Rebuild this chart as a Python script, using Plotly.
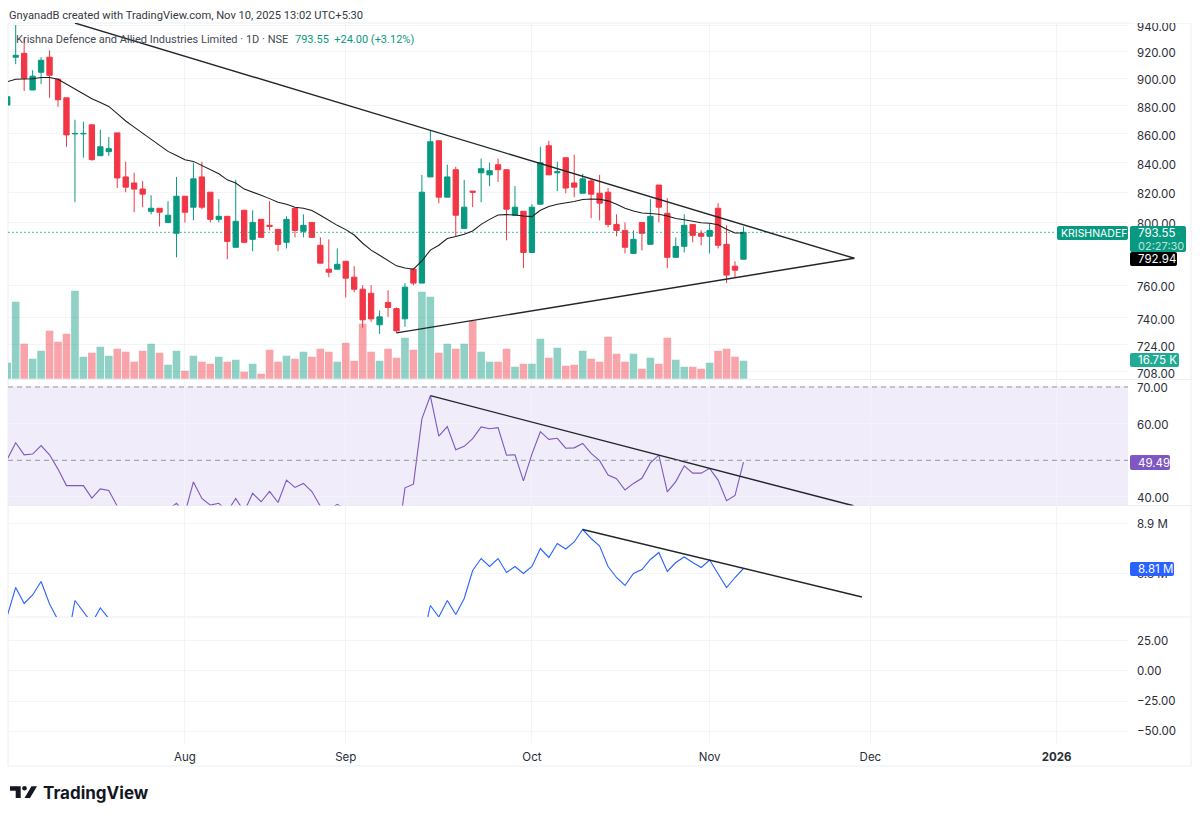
import plotly.graph_objects as go
from plotly.subplots import make_subplots

W, H = 1200, 819

# trading day index, 0 is the first whole candle on screen
bar_index = list(range(-1, 87))

opens = [880.5, 915.6, 918.5, 891.4, 904.4, 915.6, 899.3, 885.7, 860.0, 860.0, 866.4, 844.8,
         847.6, 860.7, 830.3, 826.2, 822.1, 807.3, 809.3, 800.0, 792.9, 817.3, 810.0, 830.3,
         820.0, 802.0, 804.0, 783.9, 808.0, 789.0, 802.0, 798.1, 795.5, 787.1, 809.3, 794.2,
         800.0, 785.2, 770.0, 770.0, 775.0, 765.0, 757.5, 755.0, 735.8, 749.4, 745.6, 739.4,
         770.0, 761.3, 830.3, 855.2, 816.7, 835.2, 796.1, 820.7, 833.1, 831.7, 838.6, 835.2,
         804.7, 807.3, 780.6, 812.0, 851.7, 833.1, 843.4, 826.2, 819.3, 827.6, 819.3, 820.0,
         798.7, 794.8, 780.0, 800.0, 785.8, 824.8, 806.0, 777.5, 784.5, 798.7, 792.9, 791.0,
         809.3, 785.8, 771.9, 776.3]
highs = [887.0, 940.0, 929.6, 905.9, 915.6, 920.7, 900.0, 885.7, 870.0, 868.6, 866.4, 862.9,
         857.9, 860.7, 840.7, 833.1, 827.6, 818.0, 809.3, 814.0, 830.3, 817.3, 840.0, 840.7,
         820.0, 815.3, 804.0, 828.3, 808.0, 808.0, 802.0, 814.0, 795.5, 804.0, 809.3, 805.3,
         800.0, 790.3, 789.0, 783.2, 775.0, 771.9, 760.0, 760.0, 744.4, 756.9, 746.3, 761.3,
         770.6, 831.7, 862.1, 855.2, 838.6, 837.2, 828.3, 820.7, 842.8, 840.0, 842.8, 835.2,
         824.1, 807.3, 812.0, 851.0, 855.2, 840.7, 843.4, 845.5, 832.4, 829.0, 831.7, 822.8,
         805.3, 800.0, 794.8, 800.0, 815.3, 824.8, 816.0, 790.3, 805.3, 798.7, 794.8, 799.4,
         812.7, 798.1, 775.0, 797.4]
lows = [880.0, 910.4, 890.7, 891.4, 895.7, 885.7, 879.3, 851.0, 813.3, 843.4, 841.4, 844.8,
        844.8, 822.8, 820.0, 806.7, 810.0, 805.3, 797.4, 800.0, 777.5, 800.0, 801.3, 808.7,
        800.0, 800.0, 776.3, 783.9, 786.5, 781.3, 790.3, 794.8, 781.3, 783.2, 790.3, 790.3,
        790.3, 773.8, 765.0, 770.0, 752.5, 755.6, 734.0, 737.6, 730.4, 740.6, 731.0, 734.6,
        760.0, 761.3, 830.3, 812.7, 816.7, 791.0, 796.1, 810.0, 813.3, 824.1, 826.9, 788.4,
        804.7, 770.6, 780.6, 812.0, 831.7, 820.7, 819.3, 816.7, 819.3, 802.7, 801.3, 796.8,
        791.0, 780.0, 780.0, 781.9, 785.8, 800.0, 770.6, 777.5, 780.6, 787.1, 785.2, 780.0,
        783.2, 761.3, 765.0, 776.3]
closes = [886.5, 917.0, 900.0, 901.5, 913.3, 902.2, 884.3, 859.3, 860.3, 860.3, 842.1, 851.0,
          849.7, 829.6, 823.4, 822.1, 818.7, 809.3, 806.7, 804.7, 817.3, 806.7, 829.0, 810.0,
          802.0, 804.0, 787.7, 800.7, 787.1, 800.0, 790.3, 797.4, 785.8, 802.0, 794.8, 798.1,
          790.3, 773.8, 768.1, 773.1, 764.4, 757.5, 738.8, 739.4, 740.6, 746.3, 732.2, 758.8,
          761.3, 820.0, 854.5, 816.7, 830.3, 804.7, 810.0, 820.0, 835.9, 834.5, 835.2, 808.7,
          810.0, 780.6, 810.0, 840.0, 831.7, 833.8, 822.8, 823.4, 829.0, 818.7, 812.7, 798.7,
          794.8, 783.9, 789.0, 792.9, 804.0, 810.0, 777.5, 784.5, 798.1, 791.6, 791.0, 794.8,
          785.2, 766.3, 769.4, 793.55]

# thousands of shares
volume_k = [14.9, 71.6, 32.6, 18.6, 26.0, 44.6, 34.4, 41.9, 81.8, 20.5, 24.2, 29.8, 21.4, 27.9, 25.1,
            15.8, 26.0, 32.6, 24.2, 13.0, 26.0, 7.4, 21.4, 15.8, 14.0, 20.5, 15.8, 17.7, 6.5, 14.0,
            4.7, 27.0, 15.8, 21.4, 18.6, 25.1, 20.5, 27.9, 25.1, 15.8, 33.5, 16.7, 51.2, 25.1, 16.7,
            27.9, 19.5, 38.1, 27.0, 80.9, 76.3, 24.2, 32.6, 27.9, 32.6, 53.9, 25.1, 15.8, 15.8, 27.9,
            11.2, 14.0, 14.0, 37.2, 19.5, 28.8, 12.1, 13.0, 26.0, 18.6, 15.8, 39.1, 23.3, 15.8, 23.3,
            9.3, 19.5, 14.0, 38.1, 17.7, 11.2, 11.2, 9.3, 14.9, 26.0, 27.9, 20.5, 16.75]

moving_avg = [897.4, 899.3, 899.5, 899.6, 900.5, 900.5, 899.3, 895.7, 892.1, 888.6, 885.0, 882.4,
              879.5, 874.3, 869.1, 864.8, 860.5, 856.1, 851.9, 847.8, 845.0, 842.1, 840.9, 838.1,
              835.2, 832.4, 828.3, 826.2, 822.1, 820.2, 818.0, 815.7, 813.3, 812.0, 810.0, 809.3,
              807.8, 804.7, 801.3, 798.1, 795.3, 791.8, 786.5, 782.1, 778.8, 775.6, 772.1, 770.8,
              770.0, 775.2, 782.1, 785.2, 789.5, 790.8, 792.3, 794.4, 798.7, 802.0, 804.9, 805.1,
              804.9, 804.2, 803.8, 808.0, 810.5, 812.0, 812.7, 813.8, 815.1, 815.5, 815.3, 814.2,
              812.0, 809.3, 807.5, 806.2, 805.8, 805.3, 804.2, 802.5, 801.8, 800.7, 799.8, 799.4,
              798.5, 795.5, 793.1, 793.1]

# None where the line runs off the bottom of the pane
rsi = [50.3, 54.8, 51.5, 51.7, 54.0, 51.5, 47.6, 43.1, 43.1, 43.1, 39.7, 42.2, 41.8, 37.5, 36.0,
       None, None, None, None, 36.5, 38.3, 35.6, 44.1, 39.6, 37.8, 38.3, 36.0, 39.6, 36.0, 41.0,
       38.7, 41.5, 38.5, 44.6, 42.6, 43.7, 41.5, 37.5, 36.5, 38.0, 36.5, None, None, None, None,
       None, 26.0, 42.5, 43.5, 61.3, 67.6, 56.6, 59.2, 52.9, 53.8, 55.9, 59.1, 58.6, 58.9, 51.4,
       51.5, 44.4, 51.7, 57.8, 55.7, 56.0, 53.3, 53.4, 54.6, 51.9, 49.9, 46.0, 45.0, 41.9, 43.7,
       45.1, 49.3, 51.4, 41.4, 44.2, 48.5, 46.5, 46.5, 47.8, 44.6, 39.0, 40.4, 49.49]

# millions, same gaps idea as rsi
obv_m = [8.714, 8.771, 8.739, 8.756, 8.783, 8.738, 8.706, 8.652, 8.745, 8.722, 8.700, 8.730, 8.709]
obv_m += [None] * 36
obv_m += [8.659, 8.735, 8.712, 8.745, 8.717, 8.749, 8.805, 8.829, 8.813, 8.829, 8.801, 8.813,
          8.799, 8.813, 8.849, 8.831, 8.859, 8.848, 8.862, 8.887, 8.869, 8.854, 8.813, 8.791,
          8.775, 8.799, 8.807, 8.827, 8.841, 8.803, 8.821, 8.832, 8.821, 8.811, 8.826, 8.799,
          8.771, 8.791, 8.809]

# trend lines, (bar, value) ends
upper_x, upper_y = [7.0, 99.1], [941.5, 776.9]
lower_x, lower_y = [45.0, 99.1], [731.0, 776.9]
rsi_tl_x, rsi_tl_y = [49.0, 99.0], [67.63, 37.6]
obv_tl_x, obv_tl_y = [67.0, 100.0], [8.887, 8.752]

last_price = 793.55
price_line_x = [-0.91, 122.9]

month_ticks = [20, 39, 61, 82, 101, 123]
month_labels = ["Aug", "Sep", "Oct", "Nov", "Dec", "<b>2026</b>"]

price_ticks = [940, 920, 900, 880, 860, 840, 820, 800, 760, 740, 724, 708]
rsi_ticks = [70, 60, 40]
obv_ticks = [8.9, 8.8]
obv_labels = ["8.9 M", "8.8 M"]
bottom_ticks = [25, 0, -25, -50]
bottom_labels = ["25.00", "0.00", "−25.00", "−50.00"]

GREEN = "#089981"
RED = "#f23645"
GRID = "#f3f4f8"
EDGE = "#eceef3"
TEXT = "#2a2e39"
TREND = "#22262b"
FONT = "Inter"
HEAD_FONT = "Roboto"


def px(x):
    return x / W


def py(y):
    return 1 - y / H


def pane(top, bottom):
    return [py(bottom), py(top)]


def poly(points):
    return "M" + " L".join(f"{px(a):.5f},{py(b):.5f}" for a, b in points) + " Z"


def round_box(x0, x1, y0, y1, r=2):
    c = f"{px(x0 + r):.5f},{py(y0):.5f}"
    return (f"M{c} L{px(x1 - r):.5f},{py(y0):.5f} Q{px(x1):.5f},{py(y0):.5f} {px(x1):.5f},{py(y0 + r):.5f} "
            f"L{px(x1):.5f},{py(y1 - r):.5f} Q{px(x1):.5f},{py(y1):.5f} {px(x1 - r):.5f},{py(y1):.5f} "
            f"L{px(x0 + r):.5f},{py(y1):.5f} Q{px(x0):.5f},{py(y1):.5f} {px(x0):.5f},{py(y1 - r):.5f} "
            f"L{px(x0):.5f},{py(y0 + r):.5f} Q{px(x0):.5f},{py(y0):.5f} {c} Z")


fig = make_subplots(rows=4, cols=1, shared_xaxes=True, vertical_spacing=0,
                    specs=[[{"secondary_y": True}], [{}], [{}], [{}]])

vol_colors = [RED if c < o else GREEN for o, c in zip(opens, closes)]
fig.add_trace(go.Bar(x=bar_index, y=volume_k, marker_color=vol_colors, marker_opacity=0.45,
                     marker_line_width=0), row=1, col=1, secondary_y=False)

fig.add_trace(go.Scatter(x=price_line_x, y=[last_price, last_price], mode="lines", opacity=0.7,
                         line=dict(color=GREEN, width=1, dash="2px,2px")),
              row=1, col=1, secondary_y=True)
fig.add_trace(go.Candlestick(x=bar_index, open=opens, high=highs, low=lows, close=closes,
                             increasing=dict(line=dict(color=GREEN, width=1), fillcolor=GREEN),
                             decreasing=dict(line=dict(color=RED, width=1), fillcolor=RED),
                             whiskerwidth=0),
              row=1, col=1, secondary_y=True)
fig.add_trace(go.Scatter(x=bar_index, y=moving_avg, mode="lines",
                         line=dict(color="#1c1c1c", width=1.05)),
              row=1, col=1, secondary_y=True)
for tx, ty in [(upper_x, upper_y), (lower_x, lower_y)]:
    fig.add_trace(go.Scatter(x=tx, y=ty, mode="lines", line=dict(color=TREND, width=1.4)),
                  row=1, col=1, secondary_y=True)

fig.add_trace(go.Scatter(x=bar_index, y=rsi, mode="lines", connectgaps=False,
                         line=dict(color="#7e57c2", width=1.1)), row=2, col=1)
fig.add_trace(go.Scatter(x=rsi_tl_x, y=rsi_tl_y, mode="lines",
                         line=dict(color=TREND, width=1.4)), row=2, col=1)

fig.add_trace(go.Scatter(x=bar_index, y=obv_m, mode="lines", connectgaps=False,
                         line=dict(color="#2962ff", width=1.1)), row=3, col=1)
fig.add_trace(go.Scatter(x=obv_tl_x, y=obv_tl_y, mode="lines",
                         line=dict(color=TREND, width=1.4)), row=3, col=1)

# bottom pane is empty in the source, this only keeps its axes alive
fig.add_trace(go.Scatter(x=month_ticks, y=[None] * len(month_ticks), mode="lines"), row=4, col=1)

x_common = dict(range=[-0.91, 131.44], tickvals=month_ticks, ticktext=month_labels,
                showgrid=True, gridcolor=GRID, gridwidth=1, zeroline=False, showline=False,
                ticks="", automargin=False, rangeslider=dict(visible=False))
fig.update_xaxes(**x_common)
fig.update_xaxes(showticklabels=False, row=1, col=1)
fig.update_xaxes(showticklabels=False, row=2, col=1)
fig.update_xaxes(showticklabels=False, row=3, col=1)
fig.update_xaxes(showticklabels=True, ticklabelstandoff=5,
                 tickfont=dict(family=FONT, size=11.5, color=TEXT), row=4, col=1)

y_common = dict(side="right", showgrid=True, gridcolor=GRID, gridwidth=1, zeroline=False,
                showline=False, ticks="", ticklabelstandoff=8, automargin=False,
                tickfont=dict(family=FONT, size=11.5, color=TEXT))

shapes = [
    # rsi band and levels
    dict(type="rect", xref="x2 domain", yref="y3", x0=0, x1=1, y0=30, y1=70,
         fillcolor="#f0ecf9", line_width=0, layer="below"),
    dict(type="line", xref="x2 domain", yref="y3", x0=0, x1=1, y0=70, y1=70,
         line=dict(color="#9598a1", width=1, dash="5px,4px")),
    dict(type="line", xref="x2 domain", yref="y3", x0=0, x1=1, y0=50, y1=50,
         line=dict(color="#9598a1", width=1, dash="5px,4px")),
    # clip the top label like the source
    dict(type="rect", xref="paper", yref="paper", x0=px(1130), x1=px(1190), y0=py(23), y1=py(0),
         fillcolor="white", line_width=0, layer="above"),
    # frame
    dict(type="rect", xref="paper", yref="paper", x0=px(8), x1=px(1191), y0=py(766), y1=py(23),
         line=dict(color=EDGE, width=1), layer="below"),
]
for sep in [379.5, 505.5, 617]:
    shapes.append(dict(type="line", xref="paper", yref="paper", x0=px(8), x1=px(1191),
                       y0=py(sep), y1=py(sep), line=dict(color=EDGE, width=1), layer="below"))

# logo mark
logo = [
    poly([(10, 786.3), (20.7, 786.3), (20.7, 798), (15.7, 798), (15.7, 790.8), (10, 790.8)]),
    poly([(24.5, 798), (31.5, 786.3), (37, 786.3), (30, 798)]),
]
for path in logo:
    shapes.append(dict(type="path", path=path, xref="paper", yref="paper",
                       fillcolor="#131722", line_width=0))
shapes.append(dict(type="circle", xref="paper", yref="paper", x0=px(22.2), x1=px(26.8),
                   y0=py(790.6), y1=py(786), fillcolor="#131722", line_width=0))

# value tags: x0, x1, y0, y1, colour
tag_boxes = [
    (1057, 1128, 226, 240, GREEN),
    (1130, 1186, 226, 252, GREEN),
    (1130, 1177, 252, 266, "#000000"),
    (1130, 1179, 353, 367, "#22ab94"),
    (1130, 1170, 455, 470, "#7e57c2"),
    (1130, 1174, 562, 576, "#2962ff"),
]
for x0, x1, y0, y1, col in tag_boxes:
    shapes.append(dict(type="path", path=round_box(x0, x1, y0, y1), xref="paper", yref="paper",
                       fillcolor=col, line_width=0, layer="above"))

fig.update_layout(
    width=W, height=H,
    margin=dict(l=0, r=0, t=0, b=0, autoexpand=False),
    paper_bgcolor="white", plot_bgcolor="white",
    showlegend=False, bargap=0.1, boxgap=0.1,
    shapes=shapes,
    xaxis=dict(domain=[px(8), px(1128)]),
    xaxis2=dict(domain=[px(8), px(1128)]),
    xaxis3=dict(domain=[px(8), px(1128)]),
    xaxis4=dict(domain=[px(8), px(1128)]),
    yaxis=dict(domain=pane(23, 379.5), range=[-0.74, 330.8], visible=False),
    yaxis2=dict(domain=pane(23, 379.5), type="log", range=[2.84736, 2.97384], ticklabelshift=2,
                tickvals=price_ticks, ticktext=[f"{t:.2f}" for t in price_ticks], **y_common),
    yaxis3=dict(domain=pane(380, 505.5), range=[37.68, 71.9], tickvals=rsi_ticks, ticklabelshift=1,
                ticktext=[f"{t:.2f}" for t in rsi_ticks], **y_common),
    yaxis4=dict(domain=pane(505.5, 617), range=[8.712, 8.935], tickvals=obv_ticks, ticklabelshift=1,
                ticktext=obv_labels, **y_common),
    yaxis5=dict(domain=pane(617, 743), range=[-59.7, 44.6], tickvals=bottom_ticks,
                ticktext=bottom_labels, **y_common),
)


def label(x, y, text, color=TEXT, size=11.5, family=FONT):
    fig.add_annotation(xref="paper", yref="paper", x=px(x), y=py(y), text=text, showarrow=False,
                       xanchor="left", yanchor="middle", align="left",
                       font=dict(family=family, size=size, color=color))


label(7, 15, "GnyanadB created with TradingView.com, Nov 10, 2025 13:02 UTC+5:30",
      color="#333842", size=11.15, family=HEAD_FONT)
label(14, 39, "Krishna Defence and Allied Industries Limited · 1D · NSE",
      color="#434852", size=11, family=HEAD_FONT)
label(293, 39, "793.55  +24.00 (+3.12%)", color=GREEN, size=11, family=HEAD_FONT)

label(1059, 233, "KRISHNADEF", color="white", size=10.5)
label(1136, 233, "793.55", color="white")
label(1136, 245.5, "02:27:30", color="#bfe3dc", size=11)
label(1136, 259, "792.94", color="white")
label(1136, 360, "16.75 K", color="white")
label(1136, 462.5, "49.49", color="white")
label(1136, 569, "8.81 M", color="white")

label(41, 793, "<b>TradingView</b>", color="#131722", size=17)

fig.write_html("out.html", post_script="document.body.style.margin='0';",
               config={"displayModeBar": False})
